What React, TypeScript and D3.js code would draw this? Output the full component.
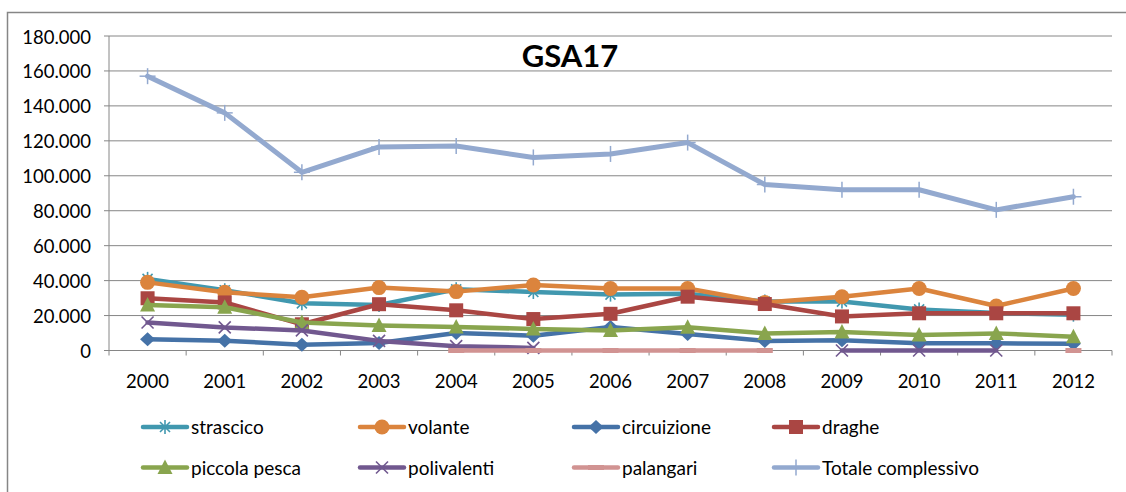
import React from "react";
import * as d3 from "d3";

const years = ["2000","2001","2002","2003","2004","2005","2006","2007","2008","2009","2010","2011","2012"];
const strascico = [41000,34500,27000,26000,35000,33500,32000,32500,28000,28000,23500,21500,20500];
const volante = [39000,33300,30500,36000,33700,37500,35500,35500,27500,30800,35500,25500,35500];
const circuizione = [6400,5600,3300,4300,10000,8500,13500,9500,5500,5800,4100,4100,3800];
const draghe = [29900,27500,15000,26500,23000,18000,21000,30800,26600,19500,21300,21300,21300];
const piccolaPesca = [26000,24800,16000,14300,13500,12300,11500,13300,9800,10600,8900,9800,7900];
const polivalenti = [16000,13200,11500,5500,2500,1500,null,null,null,0,0,0,null];
const palangari = [null,null,null,null,0,0,0,0,0,null,null,null,0];
const totale = [157000,136000,102000,116500,117000,110500,112500,119000,95000,92000,92000,80500,88000];
const yTicks = [0,20000,40000,60000,80000,100000,120000,140000,160000,180000];

type Marker = "star" | "circle" | "diamond" | "square" | "triangle" | "x" | "dash" | "plus";
const seriesList: { name: string; values: (number | null)[]; color: string; marker: Marker }[] = [
  { name: "strascico", values: strascico, color: "#4198AF", marker: "star" },
  { name: "volante", values: volante, color: "#DB843D", marker: "circle" },
  { name: "circuizione", values: circuizione, color: "#4572A7", marker: "diamond" },
  { name: "draghe", values: draghe, color: "#AA4643", marker: "square" },
  { name: "piccola pesca", values: piccolaPesca, color: "#89A54E", marker: "triangle" },
  { name: "polivalenti", values: polivalenti, color: "#71588F", marker: "x" },
  { name: "palangari", values: palangari, color: "#D19392", marker: "dash" },
  { name: "Totale complessivo", values: totale, color: "#93A9CF", marker: "plus" },
];

const itLocale = d3.formatLocale({ decimal: ",", thousands: ".", grouping: [3], currency: ["€", ""] });
const fmt = itLocale.format(",");

function MarkerShape({ type, cx, cy, color }: { type: Marker; cx: number; cy: number; color: string }) {
  switch (type) {
    case "star": {
      const s = 7;
      const d = 5;
      return (
        <g stroke={color} strokeWidth={1.6}>
          <line x1={cx} y1={cy - s} x2={cx} y2={cy + s} />
          <line x1={cx - d} y1={cy - d} x2={cx + d} y2={cy + d} />
          <line x1={cx - d} y1={cy + d} x2={cx + d} y2={cy - d} />
        </g>
      );
    }
    case "circle":
      return <circle cx={cx} cy={cy} r={7.5} fill={color} />;
    case "diamond":
      return <path d={`M${cx},${cy - 7}L${cx + 7.5},${cy}L${cx},${cy + 7}L${cx - 7.5},${cy}Z`} fill={color} />;
    case "square":
      return <rect x={cx - 7} y={cy - 7} width={14} height={14} fill={color} />;
    case "triangle":
      return <path d={`M${cx},${cy - 8}L${cx + 7.5},${cy + 6.5}L${cx - 7.5},${cy + 6.5}Z`} fill={color} />;
    case "x": {
      const d = 6;
      return (
        <g stroke={color} strokeWidth={1.6}>
          <line x1={cx - d} y1={cy - d} x2={cx + d} y2={cy + d} />
          <line x1={cx - d} y1={cy + d} x2={cx + d} y2={cy - d} />
        </g>
      );
    }
    case "dash":
      return <rect x={cx - 8} y={cy - 2.5} width={16} height={5} fill={color} />;
    case "plus":
      return (
        <g stroke={color} strokeWidth={1.5}>
          <line x1={cx} y1={cy - 8} x2={cx} y2={cy + 8} />
          <line x1={cx - 8} y1={cy} x2={cx + 8} y2={cy} />
        </g>
      );
  }
  return null;
}

export default function App() {
  const W = 1126, H = 492;
  const left = 109, right = 1112, top = 36, bottom = 350.5;
  const x = d3.scaleBand<string>().domain(years).range([left, right]).padding(0);
  const bw = x.bandwidth();
  const y = d3.scaleLinear().domain([0, 180000]).range([bottom, top]);
  const cx = (yr: string) => (x(yr) as number) + bw / 2;

  const line = d3
    .line<number | null>()
    .defined((d) => d !== null)
    .x((_, i) => cx(years[i]))
    .y((d) => y(d as number));

  const font = "Lato, 'Open Sans', sans-serif";
  const legendCols = [143, 360, 574, 774];
  const legendRows = [427, 467.5];

  return (
    <svg width={W} height={H} style={{ position: "absolute", left: 0, top: 0, background: "#fff" }} fontFamily={font}>
      <rect x={0} y={0} width={W} height={H} fill="#fff" />
      <rect x={7.5} y={12.5} width={1300} height={700} fill="none" stroke="#868686" strokeWidth={1.5} />
      {yTicks.map((t) => (
        <g key={t}>
          {t > 0 && <line x1={left} x2={right} y1={y(t)} y2={y(t)} stroke="#868686" strokeWidth={1} />}
          <line x1={left - 5} x2={left} y1={y(t)} y2={y(t)} stroke="#868686" strokeWidth={1} />
          <text x={91} y={y(t) + 7.5} textAnchor="end" fontSize={18.5} fill="#000">
            {fmt(t)}
          </text>
        </g>
      ))}
      <line x1={left} x2={left} y1={top} y2={bottom} stroke="#868686" strokeWidth={1} />
      <line x1={left} x2={right} y1={bottom} y2={bottom} stroke="#868686" strokeWidth={1} />
      {d3.range(years.length + 1).map((i) => (
        <line key={i} x1={left + i * bw} x2={left + i * bw} y1={bottom} y2={bottom + 5} stroke="#868686" strokeWidth={1} />
      ))}
      {years.map((yr) => (
        <text key={yr} x={cx(yr)} y={388} textAnchor="middle" fontSize={18.5} fill="#000">
          {yr}
        </text>
      ))}
      <text x={570} y={66.5} textAnchor="middle" fontSize={31} fontWeight="bold" fill="#000">
        GSA17
      </text>
      {seriesList.map((s) => (
        <g key={s.name}>
          <path
            d={line(s.values) || ""}
            fill="none"
            stroke={s.color}
            strokeWidth={s.marker === "plus" ? 5 : 4.5}
            strokeLinejoin="round"
            strokeLinecap="round"
          />
          {s.values.map((v, i) =>
            v === null ? null : <MarkerShape key={i} type={s.marker} cx={cx(years[i])} cy={y(v)} color={s.color} />
          )}
        </g>
      ))}
      {seriesList.map((s, i) => {
        const lx = legendCols[i % 4];
        const ly = legendRows[Math.floor(i / 4)];
        return (
          <g key={"lg" + s.name}>
            <line x1={lx} x2={lx + 44} y1={ly} y2={ly} stroke={s.color} strokeWidth={4.5} strokeLinecap="round" />
            <MarkerShape type={s.marker} cx={lx + 22} cy={ly} color={s.color} />
            <text x={lx + 48} y={ly + 7} fontSize={19} fill="#000">
              {s.name}
            </text>
          </g>
        );
      })}
    </svg>
  );
}
